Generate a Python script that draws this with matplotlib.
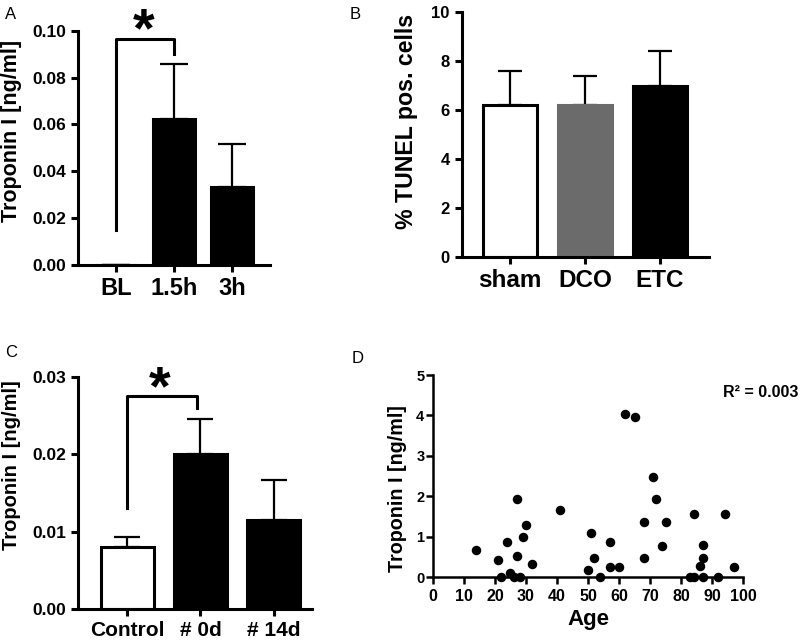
import matplotlib
matplotlib.use("Agg")
import matplotlib.pyplot as plt

plt.rcParams['font.family'] = ['Liberation Sans', 'DejaVu Sans']
plt.rcParams['font.weight'] = 'bold'

# panel A: troponin I after ischemia
a_labels = ['BL', '1.5h', '3h']
a_mean = [0.0, 0.0624, 0.0331]
a_err = [0.0, 0.0236, 0.0187]
a_ticks = [0.00, 0.02, 0.04, 0.06, 0.08, 0.10]

# panel B: TUNEL positive cells
b_labels = ['sham', 'DCO', 'ETC']
b_mean = [6.19, 6.19, 6.97]
b_err = [1.40, 1.20, 1.44]
b_colors = ['white', '#6b6b6b', 'black']

# panel C: troponin I in patients
c_labels = ['Control', '# 0d', '# 14d']
c_mean = [0.0080, 0.0200, 0.0115]
c_err = [0.0013, 0.0045, 0.0052]
c_colors = ['white', 'black', 'black']

# panel D: troponin I vs age
ages = [14, 21, 22, 24, 25, 26, 27, 27, 28, 29, 30, 32, 41, 50, 51, 52, 54, 57, 57, 60,
        62, 65, 68, 68, 71, 72, 74, 75, 83, 84, 84, 86, 87, 87, 87, 92, 94, 97]
trop = [0.68, 0.42, 0, 0.87, 0.1, 0, 1.92, 0.53, 0, 0.99, 1.29, 0.31, 1.65, 0.18, 1.08, 0.47, 0, 0.86, 0.26, 0.26,
        4.03, 3.97, 1.37, 0.46, 2.48, 1.93, 0.76, 1.35, 0, 0, 1.55, 0.28, 0.8, 0.47, 0, 0, 1.55, 0.26]

fig = plt.figure(figsize=(8, 6.44), dpi=100)


def style(ax, lw=2.2):
    for s in ['top', 'right']:
        ax.spines[s].set_visible(False)
    for s in ['left', 'bottom']:
        ax.spines[s].set_linewidth(lw)
    ax.tick_params(width=lw, length=5, direction='out')


def bars(ax, labels, mean, err, colors, cap, ylab, ylabsize, xtsize):
    x = range(len(labels))
    ax.bar(x, mean, width=0.72, color=colors, edgecolor=['black' if c != '#6b6b6b' else c for c in colors],
           linewidth=2.2, zorder=2)
    ax.errorbar(x, mean, yerr=[[0] * len(err), err], fmt='none', ecolor='black', elinewidth=1.6,
                capsize=cap, capthick=1.6, zorder=1)
    ax.set_xticks(list(x))
    ax.set_xticklabels(labels, fontsize=xtsize, fontweight='bold')
    ax.set_ylabel(ylab, fontsize=ylabsize, fontweight='bold')
    style(ax)


# A
axA = fig.add_axes([0.0975, 0.5885, 0.24, 0.3638])
bars(axA, a_labels, a_mean, a_err, ['black'] * 3, 10, 'Troponin I [ng/ml]', 15.5, 17)
axA.set_xlim(-0.65, 2.65)
axA.set_ylim(0, 0.10)
axA.set_yticks(a_ticks)
axA.set_yticklabels(['%.2f' % t for t in a_ticks], fontsize=12.5, fontweight='bold')
axA.yaxis.set_label_coords(-0.292, 0.572)
axA.plot([0, 0, 1, 1], [0.015, 0.0966, 0.0966, 0.090], color='black', lw=2.2, clip_on=False)
axA.text(0.48, 0.0994, '*', fontsize=40, fontweight='bold', ha='center', va='center', clip_on=False)

# B
axB = fig.add_axes([0.577, 0.6005, 0.309, 0.3814])
bars(axB, b_labels, b_mean, b_err, b_colors, 8.5, '% TUNEL pos. cells', 16.7, 17.5)
axB.set_xlim(-0.65, 2.65)
axB.set_ylim(0, 10)
axB.set_yticks([0, 2, 4, 6, 8, 10])
axB.set_yticklabels(['0', '2', '4', '6', '8', '10'], fontsize=12, fontweight='bold')
axB.yaxis.set_label_coords(-0.175, 0.555)

# C
axC = fig.add_axes([0.097, 0.0539, 0.2925, 0.3612])
bars(axC, c_labels, c_mean, c_err, c_colors, 9.5, 'Troponin I [ng/ml]', 14.5, 15)
axC.set_xlim(-0.68, 2.52)
axC.set_ylim(0, 0.03)
axC.set_yticks([0, 0.01, 0.02, 0.03])
axC.set_yticklabels(['0.00', '0.01', '0.02', '0.03'], fontsize=12.5, fontweight='bold')
axC.yaxis.set_label_coords(-0.24, 0.62)
axC.plot([0, 0, 0.95, 0.95], [0.013, 0.0275, 0.0275, 0.026], color='black', lw=2.2, clip_on=False)
axC.text(0.44, 0.0282, '*', fontsize=40, fontweight='bold', ha='center', va='center', clip_on=False)

# D
axD = fig.add_axes([0.541, 0.104, 0.388, 0.3137])
axD.scatter(ages, trop, s=34, color='black', zorder=3, clip_on=False)
axD.set_xlim(0, 100)
axD.set_ylim(0, 5)
axD.set_xticks(range(0, 101, 10))
axD.set_xticklabels([str(v) for v in range(0, 101, 10)], fontsize=11.5, fontweight='bold')
axD.set_yticks(range(0, 6))
axD.set_yticklabels([str(v) for v in range(0, 6)], fontsize=10.5, fontweight='bold')
axD.set_xlabel('Age', fontsize=16, fontweight='bold')
axD.set_ylabel('Troponin I [ng/ml]', fontsize=14.2, fontweight='bold')
style(axD, 1.8)
axD.tick_params(axis='y', pad=1)
axD.yaxis.set_label_coords(-0.084, 0.436)
fig.text(0.9975, 0.391, 'R² = 0.003', fontsize=11.5, fontweight='bold', ha='right', va='center')

# panel letters
for lab, x, y in [('A', 0.006, 0.978), ('B', 0.4375, 0.977), ('C', 0.006, 0.453), ('D', 0.44, 0.444)]:
    fig.text(x, y, lab, fontsize=12, fontweight='normal', ha='left', va='center')

fig.savefig('out.png', dpi=100)
